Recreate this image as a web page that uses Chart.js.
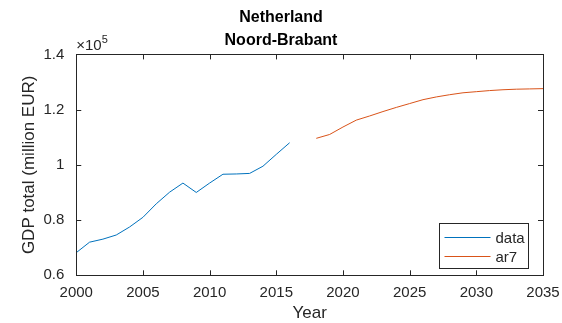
<!DOCTYPE html>
<html>
<head>
<meta charset="utf-8">
<script src="https://cdn.jsdelivr.net/npm/chart.js@4/dist/chart.umd.min.js"></script>
<style>
  html, body { margin: 0; padding: 0; background: #fff; }
  #wrap { width: 562px; height: 323px; }
</style>
</head>
<body>
<div id="wrap"><canvas id="gdp"></canvas></div>
<script>
// GDP total, Noord-Brabant (million EUR)
var dataYears = [2000, 2001, 2002, 2003, 2004, 2005, 2006, 2007, 2008, 2009, 2010, 2011, 2012, 2013, 2014, 2015, 2016];
var dataValues = [68200, 72000, 73100, 74600, 77500, 81000, 85900, 90100, 93400, 90000, 93400, 96600, 96700, 96900, 99500, 103800, 108000];

// ar7 forecast
var ar7Years = [2018, 2019, 2020, 2021, 2022, 2023, 2024, 2025, 2026, 2027, 2028, 2029, 2030, 2031, 2032, 2033, 2034, 2035];
var ar7Values = [109600, 111000, 113700, 116200, 117700, 119300, 120800, 122200, 123600, 124600, 125400, 126100, 126500, 126900, 127200, 127400, 127500, 127600];

var xTicks = [2000, 2005, 2010, 2015, 2020, 2025, 2030, 2035];
var yTicks = [60000, 80000, 100000, 120000, 140000];

var axisColor = '#262626';
var fontFamily = '"Liberation Sans", Arial, Helvetica, sans-serif';

function points(xs, ys) {
    return xs.map(function (x, i) { return { x: x, y: ys[i] }; });
}

// box around the axes, inward ticks, exponent label and legend
var matlabAxes = {
    id: 'matlabAxes',
    afterDraw: function (chart) {
        var ctx = chart.ctx;
        var a = chart.chartArea;
        var xs = chart.scales.x, ys = chart.scales.y;
        var tl = 5;
        ctx.save();
        ctx.strokeStyle = axisColor;
        ctx.lineWidth = 1;
        ctx.strokeRect(Math.round(a.left) + 0.5, Math.round(a.top) + 0.5,
            Math.round(a.right - a.left), Math.round(a.bottom - a.top));
        ctx.beginPath();
        xTicks.forEach(function (v) {
            var px = Math.round(xs.getPixelForValue(v)) + 0.5;
            ctx.moveTo(px, a.bottom); ctx.lineTo(px, a.bottom - tl);
            ctx.moveTo(px, a.top); ctx.lineTo(px, a.top + tl);
        });
        yTicks.forEach(function (v) {
            var py = Math.round(ys.getPixelForValue(v)) + 0.5;
            ctx.moveTo(a.left, py); ctx.lineTo(a.left + tl, py);
            ctx.moveTo(a.right, py); ctx.lineTo(a.right - tl, py);
        });
        ctx.stroke();

        // exponent
        ctx.fillStyle = axisColor;
        ctx.textBaseline = 'alphabetic';
        ctx.textAlign = 'left';
        ctx.font = '15px ' + fontFamily;
        ctx.fillText('\u00d710', a.left, a.top - 4);
        var w = ctx.measureText('\u00d710').width;
        ctx.font = '11px ' + fontFamily;
        ctx.fillText('5', a.left + w, a.top - 11);

        // legend
        var lx = 439.5, ly = 223.5, lw = 89, lh = 45;
        ctx.fillStyle = '#fff';
        ctx.fillRect(lx, ly, lw, lh);
        ctx.strokeStyle = axisColor;
        ctx.strokeRect(lx, ly, lw, lh);
        ctx.font = '15px ' + fontFamily;
        ctx.textBaseline = 'middle';
        chart.data.datasets.forEach(function (ds, i) {
            var yy = ly + 14 + i * 19;
            ctx.strokeStyle = ds.borderColor;
            ctx.beginPath();
            ctx.moveTo(lx + 5, yy); ctx.lineTo(lx + 51, yy);
            ctx.stroke();
            ctx.fillStyle = axisColor;
            ctx.fillText(ds.label, lx + 56, yy + 1);
        });
        ctx.restore();
    }
};

new Chart(document.getElementById('gdp'), {
    type: 'line',
    data: {
        datasets: [
            {
                label: 'data',
                data: points(dataYears, dataValues),
                borderColor: '#0072BD',
                borderWidth: 1,
                pointRadius: 0,
                fill: false,
                tension: 0
            },
            {
                label: 'ar7',
                data: points(ar7Years, ar7Values),
                borderColor: '#D95319',
                borderWidth: 1,
                pointRadius: 0,
                fill: false,
                tension: 0
            }
        ]
    },
    options: {
        responsive: true,
        maintainAspectRatio: false,
        animation: false,
        events: [],
        layout: { padding: { left: 19, right: 19, top: 0, bottom: 0 } },
        plugins: {
            legend: { display: false },
            tooltip: { enabled: false },
            title: {
                display: true,
                text: ['Netherland', 'Noord-Brabant'],
                color: '#000',
                font: { family: fontFamily, size: 16, weight: 'bold', lineHeight: 1.45 },
                padding: { top: 6, bottom: 2 }
            }
        },
        scales: {
            x: {
                type: 'linear',
                min: 2000,
                max: 2035,
                afterBuildTicks: function (scale) {
                    scale.ticks = xTicks.map(function (v) { return { value: v }; });
                },
                grid: { display: false },
                border: { display: false },
                ticks: {
                    color: axisColor,
                    padding: 1,
                    maxRotation: 0,
                    font: { family: fontFamily, size: 15 },
                    callback: function (v) { return String(v); }
                },
                title: {
                    display: true,
                    text: 'Year',
                    color: axisColor,
                    font: { family: fontFamily, size: 17, lineHeight: 1.1 },
                    padding: { top: 1, bottom: 0 }
                }
            },
            y: {
                min: 60000,
                max: 140000,
                afterBuildTicks: function (scale) {
                    scale.ticks = yTicks.map(function (v) { return { value: v }; });
                },
                grid: { display: false },
                border: { display: false },
                ticks: {
                    color: axisColor,
                    padding: 4,
                    font: { family: fontFamily, size: 15 },
                    callback: function (v) { return String(Math.round(v / 1e4) / 10); }
                },
                title: {
                    display: true,
                    text: 'GDP total (million EUR)',
                    color: axisColor,
                    font: { family: fontFamily, size: 17 },
                    padding: { top: 0, bottom: 0 }
                }
            }
        }
    },
    plugins: [matlabAxes]
});
</script>
</body>
</html>
